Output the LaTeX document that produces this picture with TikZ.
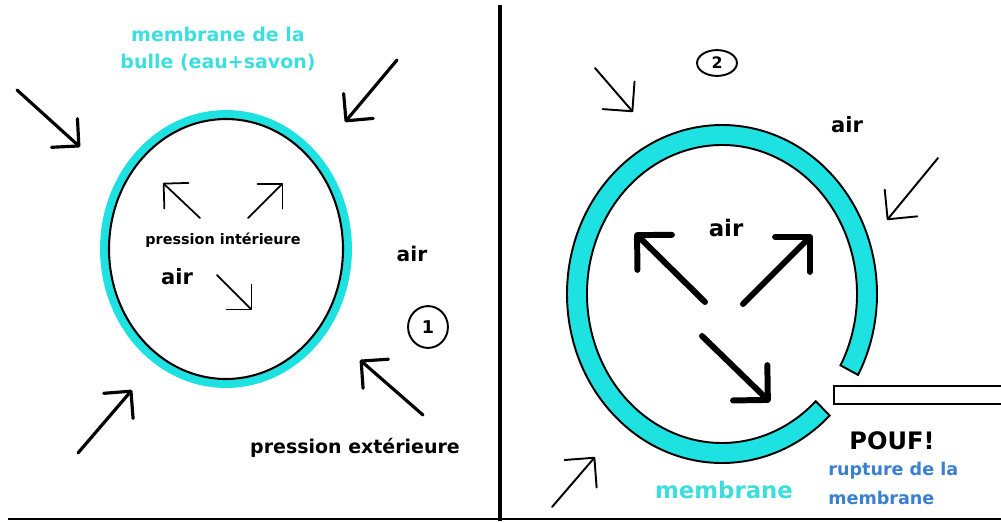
\documentclass[tikz,border=0pt]{standalone}
\usepackage{fontspec}
\setmainfont{DejaVu Sans}
\usetikzlibrary{arrows.meta,shapes.geometric,calc}
\definecolor{soap}{RGB}{30,226,226}
\definecolor{soaptxt}{RGB}{62,222,222}
\definecolor{rupt}{RGB}{58,128,210}
\newcommand{\fs}[2][1.25]{\fontsize{#2}{#1\dimexpr#2\relax}\selectfont\bfseries}

\begin{document}
\begin{tikzpicture}[
  x=0.02cm, y=-0.02cm,
  lbl/.style={inner sep=0pt, align=left},
  outarr/.style={-{Straight Barb[length=11pt,width=22pt,round]}, line width=1.8pt, line cap=round},
  inarr/.style={-{Straight Barb[length=10pt,width=20pt,round]}, line width=1pt, line cap=round},
  thinarr/.style={-{Straight Barb[length=12pt,width=24pt,round]}, line width=1.1pt, line cap=round},
  bigarr/.style={-{Straight Barb[length=14pt,width=28pt,round]}, line width=3.4pt, line cap=round},
  numcirc/.style={draw, line width=1.1pt, inner sep=0pt}
]
\useasboundingbox (0,0) rectangle (1001,522);
\fill[white] (0,0) rectangle (1001,522);

% frame
\draw[line width=2pt] (500,5) -- (500,521);
\draw[line width=1.6pt] (8,519) -- (1001,519);

%% bubble 1 : intact
\draw[soap, line width=4.5pt] (226,249) ellipse [x radius=122, y radius=135];
\draw[line width=1.2pt] (226,249) ellipse [x radius=117, y radius=130];

\node[lbl, soaptxt, align=center, font={\fs[1.4]{10.8pt}}] (memb1) at (218,49) {membrane de la\\bulle (eau+savon)};

\draw[outarr] (17,90) -- (80,147);
\draw[outarr] (397,60) -- (345,122);
\draw[outarr] (78,453) -- (132,390);
\draw[outarr] (423,415) -- (360,360);

\draw[inarr] (200,218) -- (163,183);
\draw[inarr] (248,218) -- (283,183);
\draw[inarr] (217,275) -- (252,310);

\node[lbl, font=\fs{8.2pt}] (pint) at (223,240) {pression intérieure};
\node[lbl, font=\fs{12pt}] (air1) at (177,277) {air};
\node[lbl, font=\fs{11.5pt}] (air2) at (412,254) {air};
\node[lbl, font=\fs{10.8pt}] (pext) at (355,448) {pression extérieure};
\node[numcirc, ellipse, minimum width=22.7pt, minimum height=23.8pt, font=\fs{10pt}] (n1) at (428,327) {1};

%% bubble 2 : bursting
\coordinate (c2) at (722,294);
\filldraw[fill=soap, line width=1.1pt]
  ($(c2)+(46:155 and 169)$)
  arc[start angle=46, end angle=388.6, x radius=155, y radius=169]
  -- ($(c2)+(388.6:135 and 149)$)
  arc[start angle=388.6, end angle=46, x radius=135, y radius=149]
  -- cycle;

% pin
\draw[fill=white, line width=1.1pt] (834,386) rectangle (1010,404);

\draw[thinarr] (595,68) -- (633,112);
\draw[thinarr] (938,158) -- (887,220);
\draw[thinarr] (552,507) -- (595,457);

\draw[bigarr] (705,302) -- (635,233);
\draw[bigarr] (743,304) -- (812,235);
\draw[bigarr] (702,336) -- (770,402);

\node[numcirc, ellipse, minimum width=22.7pt, minimum height=14.7pt, font=\fs{9pt}] (n2) at (717,63) {2};
\node[lbl, font=\fs{12pt}] (air3) at (847,125) {air};
\node[lbl, font=\fs{13pt}] (air4) at (726,228) {air};
\node[lbl, font=\fs{13.7pt}] (pouf) at (892,441) {POUF!};
\node[lbl, rupt, anchor=west, font={\fs[1.65]{10pt}}] (rupt) at (828,483) {rupture de la\\membrane};
\node[lbl, soaptxt, font=\fs{13pt}] (memb2) at (724,490) {membrane};
\end{tikzpicture}
\end{document}
